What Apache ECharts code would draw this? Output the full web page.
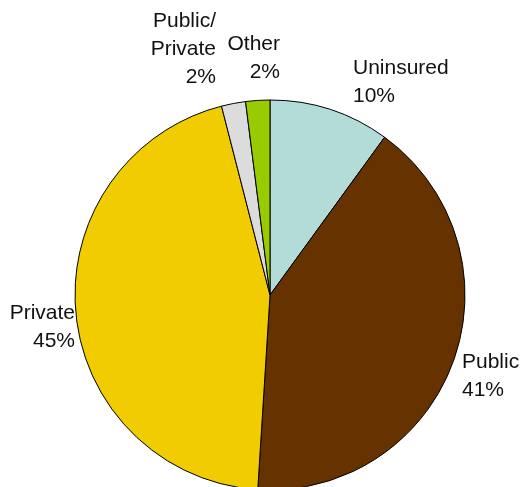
<!DOCTYPE html>
<html>
<head>
<meta charset="utf-8">
<style>
  html, body { margin: 0; padding: 0; background: #ffffff; }
  #chart { width: 525px; height: 487px; }
</style>
<script src="https://cdn.jsdelivr.net/npm/echarts@6/dist/echarts.min.js"></script>
</head>
<body>
<div id="chart"></div>
<script>
// Health insurance coverage shares, clockwise from 12 o'clock
const categories = ['Uninsured', 'Public', 'Private', 'Public/Private', 'Other'];
const shares = [10, 41, 45, 2, 2];
const labelNames = ['Uninsured', 'Public', 'Private', 'Public/\nPrivate', 'Other'];
const sliceColors = ['#b3dcd9', '#663300', '#f0cc00', '#dcdcdc', '#99cc00'];

// Label anchor for each slice: [x, y of first line centre, alignment]
const labelAnchors = [
  [353, 68, 'left'],
  [462, 362, 'left'],
  [75, 313, 'right'],
  [216, 21, 'right'],
  [280, 44, 'right']
];
const LINE_H = 28;

const chart = echarts.init(document.getElementById('chart'), null, { renderer: 'canvas' });

chart.setOption({
  backgroundColor: '#ffffff',
  animation: false,
  series: [{
    type: 'pie',
    center: [270, 295],
    radius: 195,
    startAngle: 90,
    clockwise: true,
    avoidLabelOverlap: false,
    itemStyle: { borderColor: '#000000', borderWidth: 1 },
    emphasis: { disabled: true },
    labelLine: { show: false },
    label: {
      show: true,
      position: 'outside',
      fontFamily: '"Liberation Sans", Arial, sans-serif',
      fontSize: 21,
      color: '#111111',
      lineHeight: LINE_H,
      formatter: (p) => labelNames[p.dataIndex] + '\n' + p.value + '%'
    },
    labelLayout: (params) => {
      const a = labelAnchors[params.dataIndex];
      return {
        x: a[0],
        y: a[1] - LINE_H / 2,
        align: a[2],
        verticalAlign: 'top',
        hideOverlap: false,
        moveOverlap: null
      };
    },
    data: categories.map((name, i) => ({
      name: name,
      value: shares[i],
      itemStyle: { color: sliceColors[i] }
    }))
  }]
});
</script>
</body>
</html>
